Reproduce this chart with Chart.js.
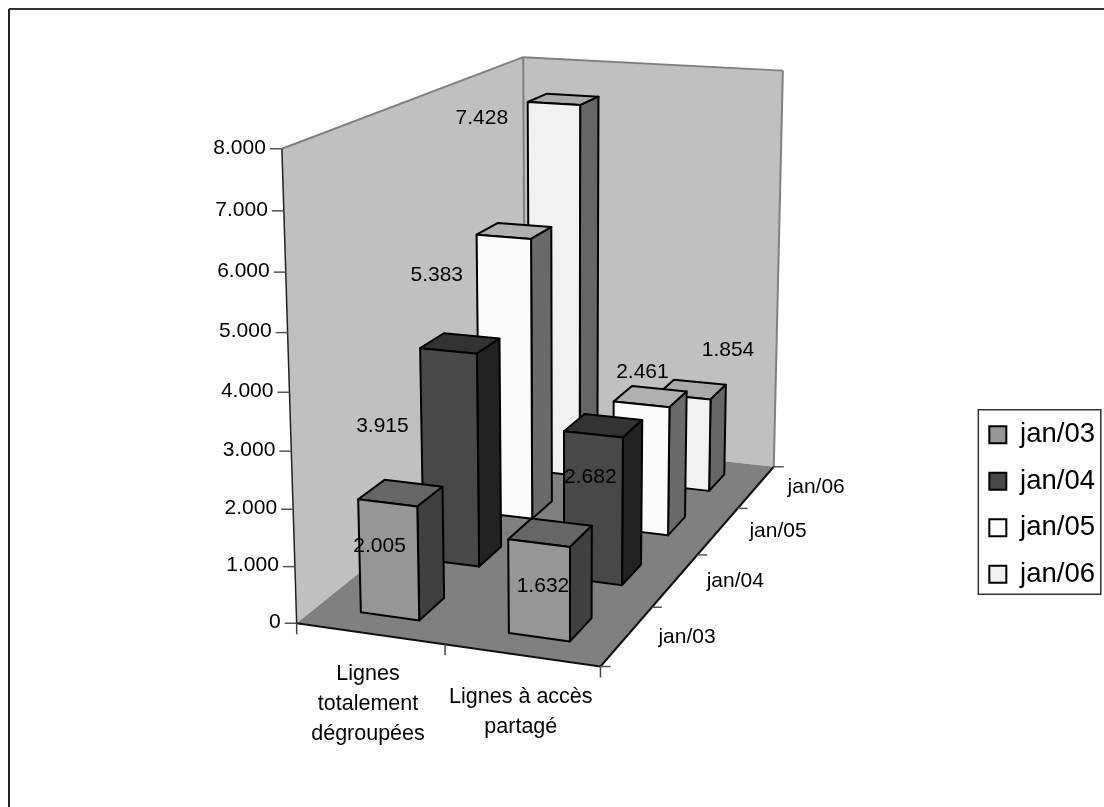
<!DOCTYPE html>
<html lang="fr">
<head>
<meta charset="utf-8">
<title>Lignes dégroupées</title>
<style>
  html, body { margin: 0; padding: 0; background: #fff; }
  canvas { display: block; }
</style>
<script src="https://cdn.jsdelivr.net/npm/chart.js@4/dist/chart.umd.js"></script>
</head>
<body>
<canvas id="chart" width="1104" height="807"></canvas>
<script>
// data
const categories = [["Lignes", "totalement", "dégroupées"], ["Lignes à accès", "partagé"]];
const seriesNames = ["jan/03", "jan/04", "jan/05", "jan/06"];
const valuesJan03 = [2005, 1632];
const valuesJan04 = [3915, 2682];
const valuesJan05 = [5383, 2461];
const valuesJan06 = [7428, 1854];
const seriesValues = [valuesJan03, valuesJan04, valuesJan05, valuesJan06];

// styles
const FONT = '"Liberation Sans", Arial, sans-serif';
const frontColors = ["#969696", "#484848", "#fbfbfb", "#f1f1f1"];
const topColors = ["#666666", "#333333", "#b0b0b0", "#aaaaaa"];
const sideColors = ["#404040", "#222222", "#6a6a6a", "#666666"];
const depthPercentage = 0.4;

// label shifts from the top front centre of each bar, [series][category]
const valueLabelShift = [
  [[-8, 43], [4, 43]],
  [[-66, 75], [-3, 43]],
  [[-67, 38], [1, -32]],
  [[-72, 15], [44, -47]]
];
const categoryLabelShift = [[-2, 70], [-1, 57]];
const depthLabelShift = [[60, 1], [60, 1], [60, 0], [60, 0]];

// where the corners of the plot box land on the page: [x, y, z] -> [px, py]
const boxCorners = [
  [[0, 0, 0], [297, 623]],
  [[1, 0, 0], [600, 667]],
  [[1, 0, 1], [774, 466]],
  [[0, 0, 1], [525, 440]],
  [[0, 1, 0], [282, 148.5]],
  [[0, 1, 1], [523, 57]],
  [[1, 1, 1], [783, 71]]
];

// least squares fit of the perspective matrix
function fitProjection(corners) {
  const rows = [];
  corners.forEach(([[x, y, z], [u, v]]) => {
    rows.push([x, y, z, 1, 0, 0, 0, 0, -u * x, -u * y, -u * z, u]);
    rows.push([0, 0, 0, 0, x, y, z, 1, -v * x, -v * y, -v * z, v]);
  });
  const n = 11;
  const m = [];
  for (let i = 0; i < n; i++) {
    m.push([]);
    for (let j = 0; j <= n; j++) {
      let s = 0;
      rows.forEach((r) => { s += r[i] * r[j]; });
      m[i].push(s);
    }
    m[i][i] += 1e-9;
  }
  for (let i = 0; i < n; i++) {
    let best = i;
    for (let k = i + 1; k < n; k++) if (Math.abs(m[k][i]) > Math.abs(m[best][i])) best = k;
    [m[i], m[best]] = [m[best], m[i]];
    for (let k = 0; k < n; k++) {
      if (k === i) continue;
      const f = m[k][i] / m[i][i];
      for (let j = i; j <= n; j++) m[k][j] -= f * m[i][j];
    }
  }
  return m.map((r, i) => r[n] / r[i]);
}

const P = fitProjection(boxCorners);

function project(x, y, z) {
  const w = P[8] * x + P[9] * y + P[10] * z + 1;
  return [
    (P[0] * x + P[1] * y + P[2] * z + P[3]) / w,
    (P[4] * x + P[5] * y + P[6] * z + P[7]) / w
  ];
}

function poly(ctx, pts, fill, stroke, width) {
  ctx.beginPath();
  pts.forEach((p, i) => (i ? ctx.lineTo(p[0], p[1]) : ctx.moveTo(p[0], p[1])));
  ctx.closePath();
  if (fill) {
    ctx.fillStyle = fill;
    ctx.fill();
  }
  if (stroke) {
    ctx.strokeStyle = stroke;
    ctx.lineWidth = width;
    ctx.lineJoin = "round";
    ctx.stroke();
  }
}

function line(ctx, a, b, color, width) {
  ctx.beginPath();
  ctx.moveTo(a[0], a[1]);
  ctx.lineTo(b[0], b[1]);
  ctx.strokeStyle = color;
  ctx.lineWidth = width;
  ctx.stroke();
}

function text(ctx, str, x, y, size, align) {
  ctx.font = size + "px " + FONT;
  ctx.fillStyle = "#000";
  ctx.textAlign = align || "center";
  ctx.textBaseline = "middle";
  ctx.fillText(str, x, y);
}

// scale pixels -> 0..1 inside the box
const fracX = (s, px) => (px - s.left) / s.width;
const fracY = (s, px) => (s.bottom - px) / s.height;
const fracZ = (s, px) => (px - s.left) / s.width;

const box3d = {
  id: "box3d",
  beforeDatasetsDraw(chart) {
    const { ctx, scales } = chart;
    ctx.save();
    // outer frame
    line(ctx, [9, 9], [1104, 9], "#333", 2);
    line(ctx, [9, 9], [9, 807], "#222", 2);

    poly(ctx, [project(0, 0, 0), project(0, 1, 0), project(0, 1, 1), project(0, 0, 1)], "#c0c0c0");
    poly(ctx, [project(0, 0, 1), project(0, 1, 1), project(1, 1, 1), project(1, 0, 1)], "#c0c0c0");
    poly(ctx, [project(0, 0, 0), project(1, 0, 0), project(1, 0, 1), project(0, 0, 1)], "#808080");

    // wall edges
    line(ctx, project(0, 1, 0), project(0, 1, 1), "#808080", 2);
    line(ctx, project(0, 1, 1), project(1, 1, 1), "#808080", 2);
    line(ctx, project(0, 1, 1), project(0, 0, 1), "#808080", 2);
    line(ctx, project(1, 1, 1), project(1, 0, 1), "#808080", 2);

    // value axis
    line(ctx, project(0, 0, 0), project(0, 1, 0), "#222", 1.5);
    scales.y.ticks.forEach((t) => {
      const p = project(0, fracY(scales.y, scales.y.getPixelForValue(t.value)), 0);
      line(ctx, p, [p[0] - 12, p[1]], "#555", 1.5);
      text(ctx, t.label, p[0] - 16, p[1] - 1, 21, "right");
    });

    // category axis
    line(ctx, project(0, 0, 0), project(1, 0, 0), "#111", 2);
    const n = categories.length;
    for (let i = 0; i <= n; i++) {
      const p = project(i / n, 0, 0);
      line(ctx, p, [p[0], p[1] + 11], "#444", 1.5);
    }
    scales.x.ticks.forEach((t, i) => {
      const p = project(fracX(scales.x, scales.x.getPixelForTick(i)), 0, 0);
      const rows = [].concat(t.label);
      const cx = p[0] + categoryLabelShift[i][0];
      const cy = p[1] + categoryLabelShift[i][1];
      rows.forEach((r, k) => text(ctx, r, cx, cy + (k - (rows.length - 1) / 2) * 30, 21.5));
    });

    // depth axis
    line(ctx, project(1, 0, 0), project(1, 0, 1), "#111", 2);
    const d = seriesNames.length;
    for (let i = 0; i <= d; i++) {
      const p = project(1, 0, i / d);
      line(ctx, p, [p[0] + 10, p[1]], "#555", 1.5);
    }
    scales.z.ticks.forEach((t, i) => {
      const p = project(1, 0, fracZ(scales.z, scales.z.getPixelForTick(i)));
      text(ctx, t.label, p[0] + depthLabelShift[i][0], p[1] + depthLabelShift[i][1], 21);
    });
    ctx.restore();
  },
  // the library's flat bars are replaced by the prisms below
  beforeDatasetDraw() {
    return false;
  },
  afterDatasetsDraw(chart) {
    const { ctx, scales } = chart;
    const bandZ = scales.z.width / seriesNames.length;
    ctx.save();
    const labels = [];
    for (let s = seriesNames.length - 1; s >= 0; s--) {
      const meta = chart.getDatasetMeta(s);
      const zMid = scales.z.getPixelForTick(s);
      const z0 = fracZ(scales.z, zMid - (bandZ * depthPercentage) / 2);
      const z1 = fracZ(scales.z, zMid + (bandZ * depthPercentage) / 2);
      meta.data.forEach((bar, c) => {
        const x0 = fracX(scales.x, bar.x - bar.width / 2);
        const x1 = fracX(scales.x, bar.x + bar.width / 2);
        const y0 = fracY(scales.y, bar.base);
        const y1 = fracY(scales.y, bar.y);
        poly(ctx, [project(x0, y1, z0), project(x1, y1, z0), project(x1, y1, z1), project(x0, y1, z1)], topColors[s], "#000", 2);
        poly(ctx, [project(x1, y0, z0), project(x1, y1, z0), project(x1, y1, z1), project(x1, y0, z1)], sideColors[s], "#000", 2);
        poly(ctx, [project(x0, y0, z0), project(x1, y0, z0), project(x1, y1, z0), project(x0, y1, z0)], frontColors[s], "#000", 2);
        const a = project((x0 + x1) / 2, y1, z0);
        labels.push([
          seriesValues[s][c].toLocaleString("de-DE"),
          a[0] + valueLabelShift[s][c][0],
          a[1] + valueLabelShift[s][c][1]
        ]);
      });
    }
    labels.forEach((l) => text(ctx, l[0], l[1], l[2], 21));
    ctx.restore();
  },
  // frame round the legend
  afterDraw(chart) {
    const hit = chart.legend.legendHitBoxes;
    const first = hit[0];
    const last = hit[hit.length - 1];
    const top = first.top + first.height / 2 - 25;
    const bottom = last.top + last.height / 2 + 20;
    const { ctx } = chart;
    ctx.save();
    ctx.strokeStyle = "#333";
    ctx.lineWidth = 1.5;
    ctx.strokeRect(first.left - 11, top, 122.5, bottom - top);
    ctx.restore();
  }
};

new Chart(document.getElementById("chart"), {
  type: "bar",
  data: {
    labels: categories,
    datasets: seriesNames.map((name, i) => ({
      label: name,
      data: seriesValues[i],
      backgroundColor: frontColors[i],
      borderColor: "#000",
      borderWidth: 2
    }))
  },
  options: {
    responsive: false,
    animation: false,
    events: [],
    grouped: false,
    barPercentage: 0.4,
    categoryPercentage: 1,
    layout: { padding: { top: 202, right: -1 } },
    scales: {
      x: { display: false, stacked: false },
      y: {
        display: false,
        min: 0,
        max: 8000,
        ticks: {
          stepSize: 1000,
          callback: (v) => v.toLocaleString("de-DE")
        }
      },
      z: {
        type: "category",
        axis: "x",
        position: "bottom",
        labels: seriesNames,
        offset: true,
        display: false
      }
    },
    plugins: {
      tooltip: { enabled: false },
      title: { display: false },
      legend: {
        display: true,
        position: "right",
        labels: {
          boxWidth: 17,
          boxHeight: 17,
          padding: 19,
          color: "#000",
          font: { family: FONT, size: 27.5 }
        }
      }
    }
  },
  plugins: [box3d]
});
</script>
</body>
</html>
